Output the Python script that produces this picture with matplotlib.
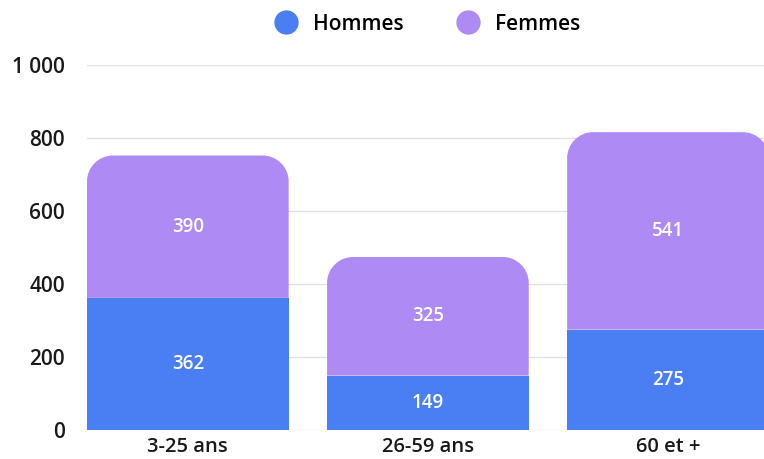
import matplotlib
matplotlib.use("Agg")
import matplotlib.pyplot as plt
from matplotlib.path import Path
from matplotlib.patches import PathPatch
from matplotlib.lines import Line2D

plt.rcParams['font.family'] = ['Open Sans', 'DejaVu Sans']

categories = ["3-25 ans", "26-59 ans", "60 et +"]
hommes = [362, 149, 275]
femmes = [390, 325, 541]
yticks = [0, 200, 400, 600, 800, 1000]
ytick_labels = ["0", "200", "400", "600", "800", "1 000"]
series_names = ["Hommes", "Femmes"]

c_h = "#4A7FF4"
c_f = "#AE8AF4"
W = 'semibold'

fig = plt.figure(figsize=(7.64, 4.59), dpi=100)
ax = fig.add_axes([87/764, 1-430/459, 1-87/764, (430-65)/459])
x = list(range(len(categories)))
width = 0.84

bh = ax.bar(x, hommes, width=width, color=c_h, zorder=2)
bf = ax.bar(x, femmes, width=width, bottom=hommes, color=c_f, zorder=2)

ax.set_xlim(-0.42, 2.4)
ax.set_ylim(0, 1000)
fig.canvas.draw()

r_px = 26
p0 = ax.transData.transform((0, 0))
p1 = ax.transData.transform((1, 1))
rx = r_px / (p1[0] - p0[0])
ry = r_px / (p1[1] - p0[1])
k = 0.5523
for rect in bf:
    x0 = rect.get_x(); w = rect.get_width()
    y0 = rect.get_y(); h = rect.get_height()
    x1 = x0 + w; y1 = y0 + h
    verts = [
        (x0, y0), (x1, y0), (x1, y1 - ry),
        (x1, y1 - ry + k * ry), (x1 - rx + k * rx, y1), (x1 - rx, y1),
        (x0 + rx, y1),
        (x0 + rx - k * rx, y1), (x0, y1 - ry + k * ry), (x0, y1 - ry),
        (x0, y0),
    ]
    codes = [Path.MOVETO, Path.LINETO, Path.LINETO,
             Path.CURVE4, Path.CURVE4, Path.CURVE4,
             Path.LINETO,
             Path.CURVE4, Path.CURVE4, Path.CURVE4,
             Path.CLOSEPOLY]
    rect.set_visible(False)
    ax.add_patch(PathPatch(Path(verts, codes), facecolor=c_f, edgecolor='none', zorder=2))

for i in x:
    ax.text(i, hommes[i] / 2, str(hommes[i]), ha='center', va='center',
            color='white', fontsize=13.5, fontweight=W, zorder=3)
    ax.text(i, hommes[i] + femmes[i] / 2, str(femmes[i]), ha='center', va='center',
            color='white', fontsize=13.5, fontweight=W, zorder=3)

ax.set_yticks(yticks)
ax.set_yticklabels(ytick_labels)
ax.set_xticks(x)
ax.set_xticklabels(categories)
ax.tick_params(axis='y', length=0, labelsize=15, colors='#1a1a1a', pad=16)
ax.tick_params(axis='x', length=0, labelsize=14.5, colors='#1a1a1a', pad=5)
for lab in ax.get_xticklabels() + ax.get_yticklabels():
    lab.set_fontweight(W)

ax.grid(axis='y', color='#e2e2e2', linewidth=1, zorder=0)
for s in ax.spines.values():
    s.set_visible(False)

handles = [Line2D([], [], marker='o', linestyle='none', markersize=16.5, color=c_h),
           Line2D([], [], marker='o', linestyle='none', markersize=16.5, color=c_f)]
fig.legend(handles, series_names, loc='center', bbox_to_anchor=(423/764, 1-24/459),
           ncol=2, frameon=False, handletextpad=0.3, columnspacing=2.1,
           prop={'weight': W, 'size': 15})

fig.savefig("out.png", dpi=100)
